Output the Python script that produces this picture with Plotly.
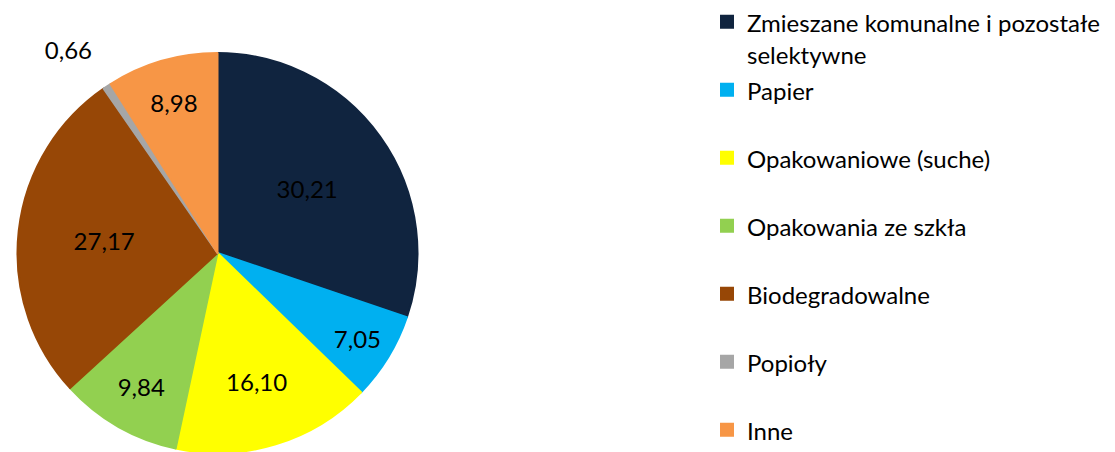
import plotly.graph_objects as go

categories = [
    "Zmieszane komunalne i pozostałe selektywne",
    "Papier",
    "Opakowaniowe (suche)",
    "Opakowania ze szkła",
    "Biodegradowalne",
    "Popioły",
    "Inne",
]
values = [30.21, 7.05, 16.10, 9.84, 27.17, 0.66, 8.98]
colors = ["#10243F", "#00B0F0", "#FFFF00", "#92D050", "#974706", "#A6A6A6", "#F79646"]
text_positions = ["inside", "inside", "inside", "inside", "inside", "outside", "inside"]

W, H = 1115, 452
MT, MB = 45, 7
PH = H - MT - MB

def legend_label(name, last=False):
    sp = '<span style="font-size:24px">{}</span>'
    if name.startswith("Zmieszane"):
        return sp.format("Zmieszane komunalne i pozostałe") + "<br>" + sp.format("selektywne")
    return sp.format(name) + ("" if last else "<br> ")

labels = [legend_label(c, i == len(categories) - 1) for i, c in enumerate(categories)]
texts = [
    f"{v:.2f}".replace(".", ",") + ("<br> " if pos == "outside" else "")
    for v, pos in zip(values, text_positions)
]

fig = go.Figure(go.Pie(
    labels=labels,
    values=values,
    text=texts,
    textinfo="text",
    textposition=text_positions,
    insidetextorientation="horizontal",
    sort=False,
    direction="clockwise",
    rotation=0,
    marker=dict(colors=colors, line=dict(color=colors, width=2)),
    textfont=dict(family="Lato", size=24, color="black"),
    outsidetextfont=dict(family="Lato", size=24, color="black"),
    insidetextfont=dict(family="Lato", size=24, color="black"),
    domain=dict(x=[9.5 / W, 409.5 / W], y=[0, 1]),
    hovertemplate="%{value}<extra></extra>",
))

fig.update_layout(
    width=W, height=H,
    margin=dict(l=0, r=0, t=MT, b=MB, autoexpand=False),
    paper_bgcolor="white",
    plot_bgcolor="white",
    font=dict(family="Lato", color="black"),
    uniformtext=dict(minsize=24, mode="show"),
    legend=dict(
        x=699 / W, xanchor="left",
        y=1 + (MT + 9) / PH, yanchor="top",
        font=dict(family="Lato", size=25, color="black"),
        valign="top",
        bgcolor="rgba(0,0,0,0)",
        borderwidth=0,
        maxheight=800,
    ),
)

fig.write_html("out.html")
